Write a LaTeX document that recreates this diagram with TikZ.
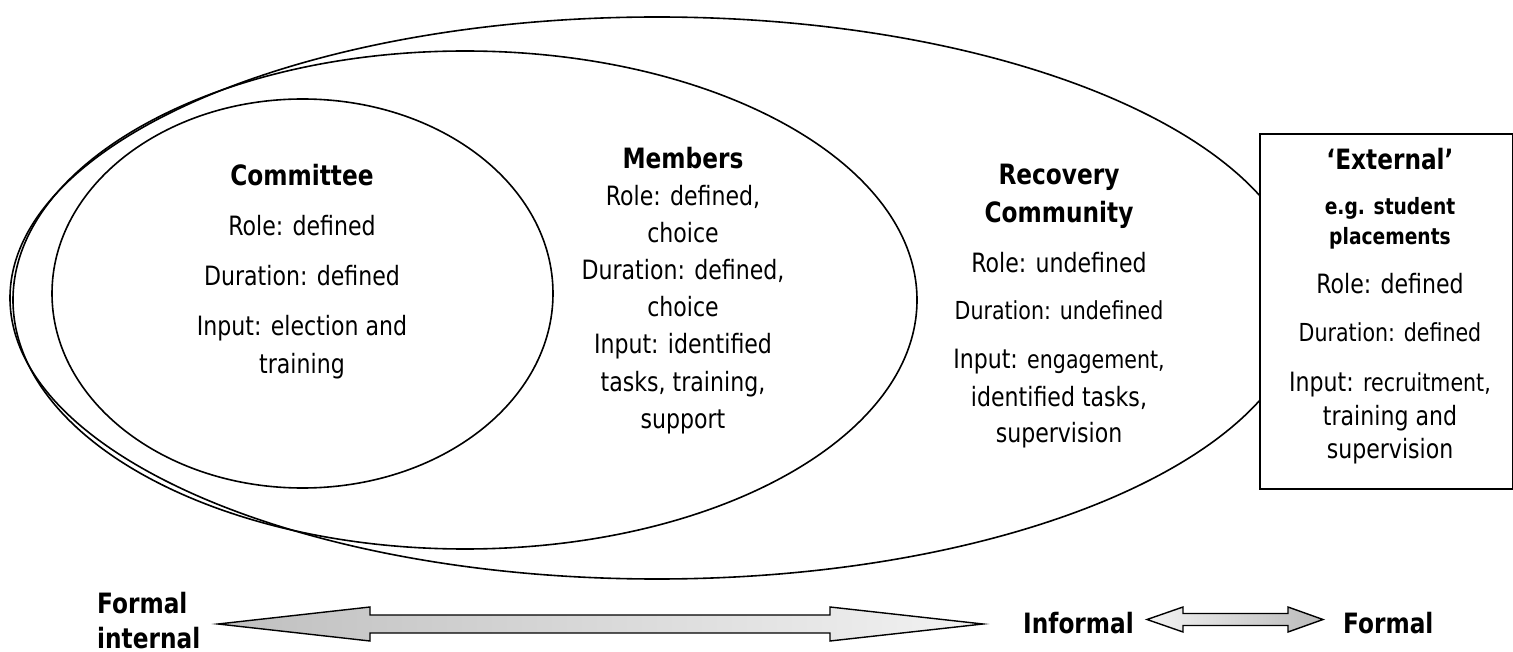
\documentclass[tikz,border=0pt]{standalone}
\usepackage{fontspec}
\setmainfont{DejaVu Sans}[FakeStretch=0.83]
\usetikzlibrary{shapes.geometric}
\newcommand\rgf{\fontsize{26.6}{32}\selectfont}
\newcommand\smf{\fontsize{24.8}{30}\selectfont}
\newcommand\hdf{\fontsize{28}{34}\selectfont\bfseries}
\newcommand\hsf{\fontsize{22.5}{28}\selectfont\bfseries}
\begin{document}
\begin{tikzpicture}[x=1pt,y=-1pt,
  ring/.style={draw, ellipse, line width=1.6pt, inner sep=0pt, outer sep=0pt},
  txt/.style={anchor=base, inner sep=0pt, font=\rgf},
  sml/.style={anchor=base, inner sep=0pt, font=\smf},
  hd/.style={anchor=base, inner sep=0pt, font=\hdf},
  hds/.style={anchor=base, inner sep=0pt, font=\hsf},
  lbl/.style={anchor=base west, inner sep=0pt, font=\hdf},
  arr/.style={draw=black, line width=1.4pt, line join=miter}]
\useasboundingbox (0,0) rectangle (1513,652);
% rings
\node[ring, minimum width=1294pt, minimum height=562pt] (community) at (657,298) {};
\node[ring, minimum width=904pt, minimum height=498pt] (members) at (465,300) {};
\node[ring, minimum width=501pt, minimum height=389pt] (committee) at (302.5,293.5) {};
% external box
\node[draw, fill=white, line width=1.6pt, anchor=north west, inner sep=0pt,
      minimum width=253pt, minimum height=355pt] (external) at (1259,133) {};
% committee text
\node[hd]  (c0) at (302,186)   {Committee};
\node[txt] (c1) at (302,236)   {Role: defined};
\node[txt] (c2) at (302,286)   {Duration: defined};
\node[txt] (c3) at (302,336)   {Input: election and};
\node[txt] (c4) at (302,373.5) {training};
% members text
\node[hd]  (m0) at (683,169)   {Members};
\node[txt] (m1) at (683,206)   {Role: defined,};
\node[txt] (m2) at (683,242.5) {choice};
\node[txt] (m3) at (683,279.5) {Duration: defined,};
\node[txt] (m4) at (683,316.5) {choice};
\node[txt] (m5) at (683,354)   {Input: identified};
\node[txt] (m6) at (683,391.5) {tasks, training,};
\node[txt] (m7) at (683,428.5) {support};
% recovery community text
\node[hd]  (r0) at (1059,185)   {Recovery};
\node[hd]  (r1) at (1059,222.5) {Community};
\node[txt] (r2) at (1059,272.5) {Role: undefined};
\node[sml] (r3) at (1059,320)   {Duration: undefined};
\node[txt] (r4) at (1059,369)   {Input: {\smf engagement,}};
\node[txt] (r5) at (1059,406)   {identified tasks,};
\node[txt] (r6) at (1059,442.5) {supervision};
% external text
\node[hd]  (e0) at (1390,170)   {‘External’};
\node[hds] (e1) at (1390,215)   {e.g. student};
\node[hds] (e2) at (1390,244.5) {placements};
\node[txt] (e3) at (1390,293.5) {Role: defined};
\node[sml] (e4) at (1390,341.5) {Duration: defined};
\node[txt] (e5) at (1390,391.5) {Input: {\smf recruitment,}};
\node[txt] (e6) at (1390,425.5) {training and};
\node[txt] (e7) at (1390,458.5) {supervision};
% arrows
\shadedraw[arr, left color=black!25, right color=black!5]
  (218,624) -- (370,607) -- (370,615) -- (830,615) -- (830,607) -- (983,624)
  -- (830,641) -- (830,633) -- (370,633) -- (370,641) -- cycle;
\shadedraw[arr, left color=black!5, right color=black!27]
  (1147,619.5) -- (1183,607) -- (1183,613.5) -- (1288,613.5) -- (1288,607) -- (1323,619.5)
  -- (1288,632) -- (1288,625.5) -- (1183,625.5) -- (1183,632) -- cycle;
% labels
\node[lbl] (f1) at (97,613)   {Formal};
\node[lbl] (f2) at (97,648)   {internal};
\node[lbl] (inf) at (1023,633) {Informal};
\node[lbl] (frm) at (1343,633) {Formal};
\end{tikzpicture}
\end{document}
